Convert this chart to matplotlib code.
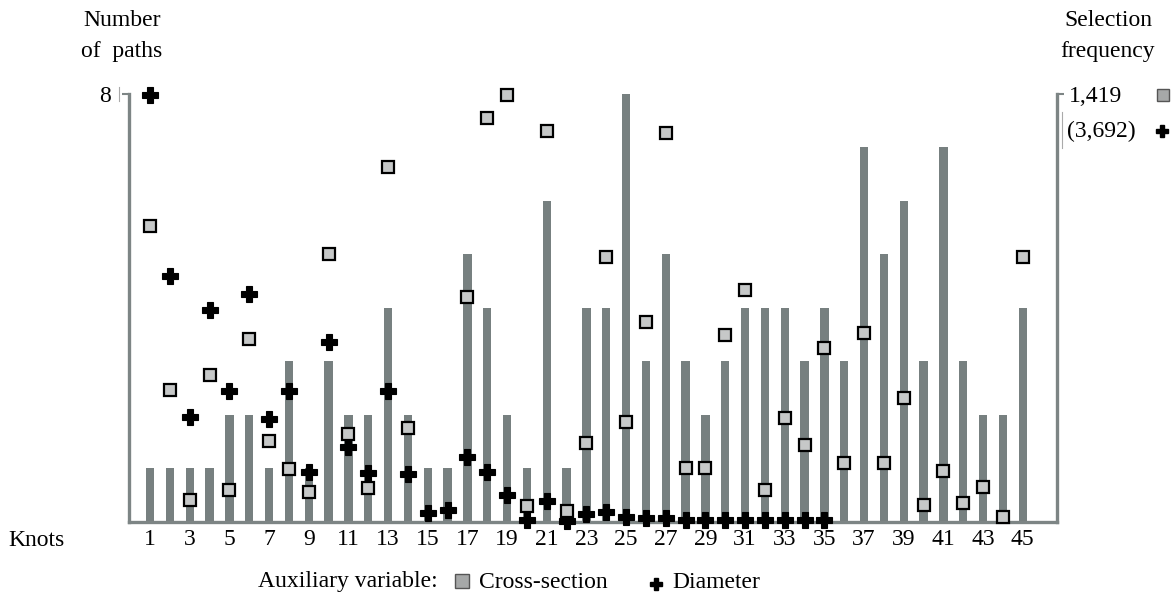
import numpy as np
import matplotlib
matplotlib.use("Agg")
import matplotlib.pyplot as plt
from matplotlib.lines import Line2D

# ---- data ----
knots = np.arange(1, 46)
n_paths = [1, 1, 1, 1, 2, 2, 1, 3, 1, 3, 2, 2, 4, 2, 1, 1, 5, 4, 2, 1,
           6, 1, 4, 4, 8, 3, 5, 3, 2, 3, 4, 4, 4, 3, 4, 3, 7, 5, 6, 3,
           7, 3, 2, 2, 4]
# selection frequency, rescaled so that 1,419 (cross-section) / 3,692 (diameter) = 8
cross_section = [5.53, 2.47, 0.41, 2.75, 0.60, 3.42, 1.51, 0.99, 0.56, 5.01,
                 1.64, 0.64, 6.64, 1.75, np.nan, np.nan, 4.21, 7.55, 7.98, 0.29,
                 7.31, 0.21, 1.47, 4.96, 1.87, 3.74, 7.28, 1.00, 1.00, 3.50,
                 4.34, 0.60, 1.95, 1.43, 3.26, 1.11, 3.54, 1.11, 2.31, 0.32,
                 0.96, 0.36, 0.65, 0.09, 4.96]
diameter = [7.98, 4.59, 1.97, 3.96, 2.44, 4.26, 1.93, 2.45, 0.94, 3.36,
            1.41, 0.92, 2.45, 0.90, 0.17, 0.22, 1.21, 0.94, 0.50, 0.04,
            0.40, 0.02, 0.15, 0.19, 0.10, 0.07, 0.07, 0.03, 0.03, 0.03,
            0.03, 0.03, 0.03, 0.03, 0.03] + [np.nan] * 10
tick_knots = list(range(1, 46, 2))

BAR = "#778080"
SPINE = "#7d8585"
SERIF = "Liberation Serif"
FS = 17

plt.rcParams["font.family"] = SERIF

fig = plt.figure(figsize=(11.73, 6.04), dpi=100)
ax = fig.add_axes([0.110, 0.1358, 0.791, 0.7086])

ax.bar(knots, n_paths, width=0.42, color=BAR, zorder=1)
ax.plot(knots, diameter, ls="none", marker="P", ms=11.5, color="black",
        mec="black", mew=0.8, zorder=3, clip_on=False)
ax.plot(knots, cross_section, ls="none", marker="s", ms=8, mfc="#c6c8c8",
        mec="black", mew=1.6, zorder=4, clip_on=False)

ax.set_xlim(-0.06, 46.72)
ax.set_ylim(0, 8)
ax.set_xticks(tick_knots)
ax.set_xticklabels([str(k) for k in tick_knots], fontsize=FS)
ax.tick_params(axis="x", length=0, pad=5)
ax.set_yticks([8])
ax.set_yticklabels(["8"], fontsize=FS)
ax.tick_params(axis="y", length=5, width=1.5, color=SPINE, pad=8)

for side in ("left", "right", "bottom"):
    ax.spines[side].set_color(SPINE)
    ax.spines[side].set_linewidth(2.4)
ax.spines["top"].set_visible(False)

# right-hand frequency axis
ax2 = ax.twinx()
ax2.set_ylim(0, 8)
ax2.set_yticks([8])
ax2.set_yticklabels(["1,419"], fontsize=FS)
ax2.tick_params(axis="y", length=5, width=1.5, color=SPINE, pad=4)
for s in ax2.spines.values():
    s.set_visible(False)

fig.text(1067 / 1173, 1 - 131 / 604, "(3,692)", fontsize=FS, va="center")
fig.add_artist(Line2D([1163 / 1173], [1 - 95 / 604], marker="s", ms=9,
                      mfc="#a6a8a8", mec="#555555", mew=1.0, ls="none"))
fig.add_artist(Line2D([1162 / 1173], [1 - 131 / 604], marker="P", ms=9,
                      color="black", ls="none"))
# faint guide strokes
fig.add_artist(Line2D([1062 / 1173] * 2, [1 - 112 / 604, 1 - 148 / 604],
                      color="#aaaaaa", lw=0.8))
fig.add_artist(Line2D([119 / 1173] * 2, [1 - 87 / 604, 1 - 101 / 604],
                      color="#aaaaaa", lw=0.8))

# axis titles
fig.text(122 / 1173, 1 - 20 / 604, "Number", ha="center", va="center", fontsize=FS)
fig.text(122 / 1173, 1 - 51 / 604, "of  paths", ha="center", va="center", fontsize=FS)
fig.text(1108 / 1173, 1 - 20 / 604, "Selection", ha="center", va="center", fontsize=FS)
fig.text(1108 / 1173, 1 - 51 / 604, "frequency", ha="center", va="center", fontsize=FS)
fig.text(8 / 1173, 1 - 541 / 604, "Knots", ha="left", va="center", fontsize=FS)

# bottom legend line
ly = 1 - 582 / 604
fig.text(258 / 1173, ly, "Auxiliary variable:", ha="left", va="center", fontsize=FS)
fig.add_artist(Line2D([462 / 1173], [ly + 0.002], marker="s", ms=10,
                      mfc="#a6a8a8", mec="#555555", mew=1.0, ls="none"))
fig.text(479 / 1173, ly, "Cross-section", ha="left", va="center", fontsize=FS)
fig.add_artist(Line2D([656 / 1173], [ly - 0.004], marker="P", ms=9,
                      color="black", ls="none"))
fig.text(672 / 1173, ly, "Diameter", ha="left", va="center", fontsize=FS)

fig.savefig("out.png", dpi=100)
